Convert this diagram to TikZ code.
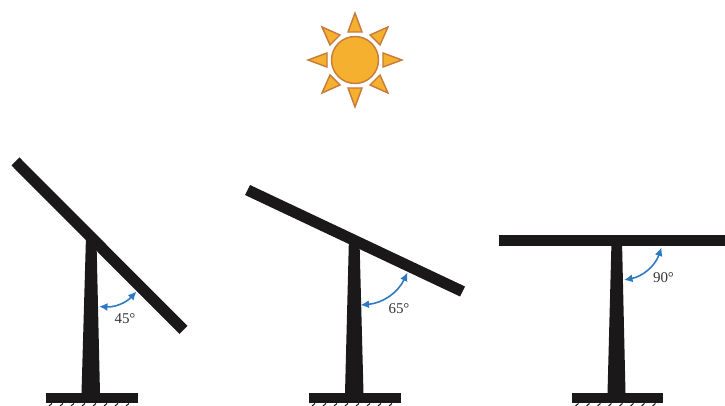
\documentclass[tikz,border=0pt]{standalone}
\usepackage{fontspec}
\setmainfont{Liberation Serif}
\usetikzlibrary{arrows.meta}
\definecolor{sunfill}{HTML}{F4B02E}
\definecolor{sunline}{HTML}{C87A38}
\definecolor{angleblue}{HTML}{2F78C4}
\definecolor{steelblack}{HTML}{1A1818}
\tikzset{
  steel/.style={fill=steelblack,draw=none},
  hatching/.style={steelblack,line width=0.6pt},
  ray/.style={fill=sunfill,draw=sunline,line width=0.8pt,line join=miter},
  anglearrow/.style={angleblue,line width=0.9pt,{Latex[length=1.7mm,width=1.6mm]}-{Latex[length=1.7mm,width=1.6mm]}},
  anglelabel/.style={text=black!80,font=\fontsize{8.5}{10}\selectfont,inner sep=0pt}
}
\begin{document}
\begin{tikzpicture}
\useasboundingbox (0,0) rectangle (14.5,8.12);
% sun
\begin{scope}[shift={(7.10,6.92)}]
\draw[ray] (0,0) circle (0.47);
\draw[ray] (0,0.94) -- (-0.14,0.56) -- (0.14,0.56) -- cycle;
\draw[ray] (0,-0.94) -- (-0.14,-0.56) -- (0.14,-0.56) -- cycle;
\draw[ray] (0.94,0) -- (0.56,0.14) -- (0.56,-0.14) -- cycle;
\draw[ray] (-0.94,0) -- (-0.56,0.14) -- (-0.56,-0.14) -- cycle;
\draw[ray] (0.66,0.66) -- (0.30,0.50) -- (0.50,0.30) -- cycle;
\draw[ray] (-0.66,0.66) -- (-0.30,0.50) -- (-0.50,0.30) -- cycle;
\draw[ray] (0.66,-0.66) -- (0.30,-0.50) -- (0.50,-0.30) -- cycle;
\draw[ray] (-0.66,-0.66) -- (-0.30,-0.50) -- (-0.50,-0.30) -- cycle;
\end{scope}
% 45 degrees
\fill[steel] (0.23,4.81) -- (0.39,4.97) -- (3.75,1.60) -- (3.59,1.44) -- cycle;
\fill[steel] (1.72,3.40) -- (1.93,3.30) -- (2.00,0.25) -- (1.63,0.25) -- cycle;
\fill[steel] (0.92,0.05) rectangle (2.75,0.25);
\draw[hatching] (1.04,0.05) -- ++(-0.06,-0.05) (1.26,0.05) -- ++(-0.06,-0.05) (1.48,0.05) -- ++(-0.06,-0.05) (1.70,0.05) -- ++(-0.06,-0.05) (1.92,0.05) -- ++(-0.06,-0.05) (2.14,0.05) -- ++(-0.06,-0.05) (2.36,0.05) -- ++(-0.06,-0.05) (2.58,0.05) -- ++(-0.06,-0.05);
\coordinate (posta) at (1.98,1.99);
\coordinate (panela) at (2.73,2.29);
\draw[anglearrow] (posta) to[bend right=25] (panela);
\node[anglelabel] (labela) at (2.50,1.74) {45°};
% 65 degrees
\fill[steel] (4.90,4.22) -- (5.00,4.42) -- (9.30,2.39) -- (9.20,2.19) -- cycle;
\fill[steel] (6.98,3.40) -- (7.19,3.30) -- (7.27,0.25) -- (6.90,0.25) -- cycle;
\fill[steel] (6.18,0.05) rectangle (8.01,0.25);
\draw[hatching] (6.30,0.05) -- ++(-0.06,-0.05) (6.52,0.05) -- ++(-0.06,-0.05) (6.74,0.05) -- ++(-0.06,-0.05) (6.96,0.05) -- ++(-0.06,-0.05) (7.18,0.05) -- ++(-0.06,-0.05) (7.40,0.05) -- ++(-0.06,-0.05) (7.62,0.05) -- ++(-0.06,-0.05) (7.84,0.05) -- ++(-0.06,-0.05);
\coordinate (postb) at (7.21,2.02);
\coordinate (panelb) at (8.15,2.67);
\draw[anglearrow] (postb) to[bend right=30] (panelb);
\node[anglelabel] (labelb) at (7.98,1.94) {65°};
% 90 degrees
\fill[steel] (9.97,3.19) rectangle (14.5,3.41);
\fill[steel] (12.23,3.30) -- (12.44,3.30) -- (12.51,0.25) -- (12.15,0.25) -- cycle;
\fill[steel] (11.43,0.05) rectangle (13.25,0.25);
\draw[hatching] (11.57,0.05) -- ++(-0.06,-0.05) (11.79,0.05) -- ++(-0.06,-0.05) (12.01,0.05) -- ++(-0.06,-0.05) (12.23,0.05) -- ++(-0.06,-0.05) (12.45,0.05) -- ++(-0.06,-0.05) (12.67,0.05) -- ++(-0.06,-0.05) (12.89,0.05) -- ++(-0.06,-0.05) (13.11,0.05) -- ++(-0.06,-0.05);
\coordinate (postc) at (12.48,2.52);
\coordinate (panelc) at (13.23,3.17);
\draw[anglearrow] (postc) to[bend right=30] (panelc);
\node[anglelabel] (labelc) at (13.27,2.57) {90°};
\end{tikzpicture}
\end{document}
